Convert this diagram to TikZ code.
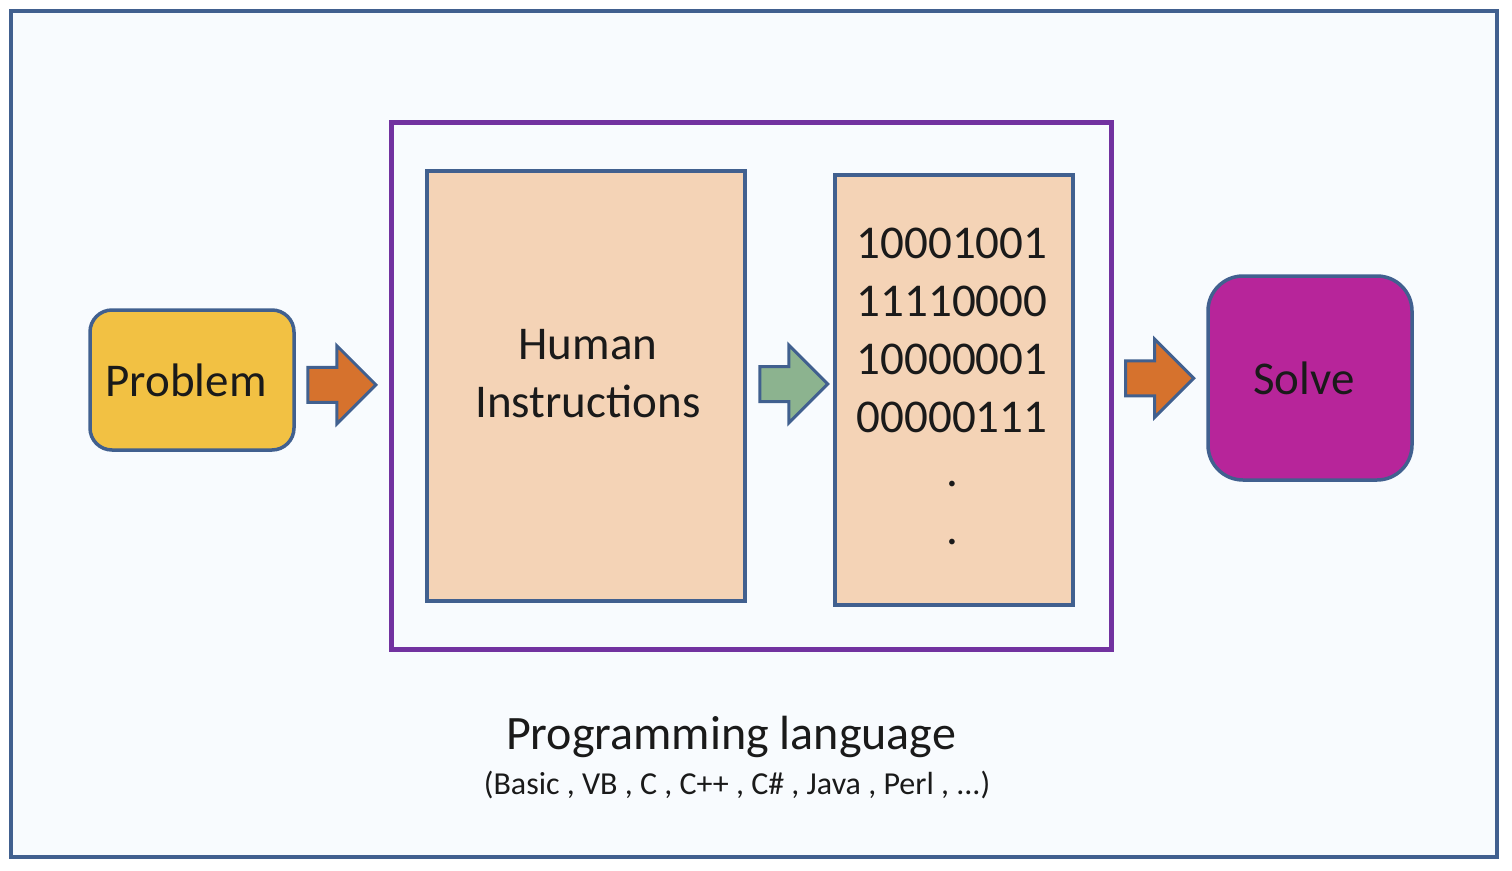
\documentclass[tikz,border=0pt]{standalone}
\usepackage{fontspec}
\setmainfont{Carlito}
\usetikzlibrary{shapes.arrows,calc}

\definecolor{edgeBlue}{HTML}{41608F}
\definecolor{paperBlue}{HTML}{F8FBFE}
\definecolor{langPurple}{HTML}{7232A0}
\definecolor{peach}{HTML}{F4D3B6}
\definecolor{probYellow}{HTML}{F2C143}
\definecolor{solveMagenta}{HTML}{B7259A}
\definecolor{fatOrange}{HTML}{D6722D}
\definecolor{fatGreen}{HTML}{8CB38F}
\definecolor{inkText}{HTML}{1A1A1A}

\begin{document}
\begin{tikzpicture}[x=1pt, y=-1pt,
    bigfont/.style={font=\fontsize{47}{58}\selectfont, text=inkText},
    block/.style={draw=edgeBlue, line width=3.5pt, bigfont, align=center},
    fatarrow/.style={single arrow, draw=edgeBlue, line width=3pt,
      minimum height=68pt, single arrow head extend=21.5pt,
      inner xsep=0pt, inner ysep=16pt}]

  % page
  \useasboundingbox (0,0) rectangle (1512,870);
  \draw[edgeBlue, line width=4pt, fill=paperBlue] (11,11) rectangle (1497,857);

  % programming language frame
  \node[draw=langPurple, line width=5pt, minimum width=720pt, minimum height=527pt]
    (frame) at (751,385.5) {};
  \node[block, fill=peach, minimum width=318pt, minimum height=430pt] (human) at (586,386) {};
  \node[bigfont, align=center] at (588,374) {Human\\Instructions};
  \node[block, fill=peach, minimum width=238pt, minimum height=430pt] (binary) at (954,390) {};
  \node[bigfont, align=center] at (952,386)
    {10001001\\11110000\\10000001\\00000111\\[-4pt].\\.};

  % problem and solve
  \node[block, fill=probYellow, rounded corners=22pt, minimum width=204pt, minimum height=140pt]
    (problem) at (192,380) {};
  \node[bigfont] at (186,380) {Problem};
  \node[block, fill=solveMagenta, rounded corners=35pt, minimum width=204pt, minimum height=204pt]
    (solve) at (1310,378) {};
  \node[bigfont] at (1304,378) {Solve};

  % fat arrows
  \node[fatarrow, fill=fatOrange] (toFrame) at ($(problem.east)!0.5!(frame.west)+(-9,2)$) {};
  \node[fatarrow, fill=fatGreen] (toBinary) at ($(human.east)!0.5!(binary.west)+(-5,-4)$) {};
  \node[fatarrow, fill=fatOrange] (toSolve) at ($(frame.east)!0.5!(solve.west)+(-9,-3.5)$) {};

  % caption
  \node[bigfont, font=\fontsize{48}{54}\selectfont] (lang) at (731,737) {Programming language};
  \node[text=inkText, font=\fontsize{32}{36}\selectfont] (langList) at (737,785)
    {(Basic , VB , C , C++ , C\# , Java , Perl , ...)};

\end{tikzpicture}
\end{document}
